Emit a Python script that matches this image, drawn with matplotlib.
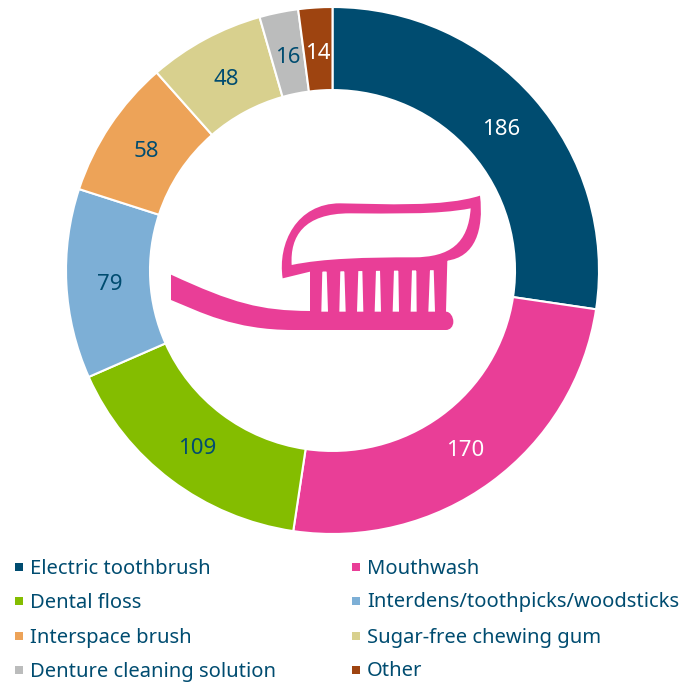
import numpy as np
import matplotlib
matplotlib.use('Agg')
import matplotlib.pyplot as plt
from matplotlib.patches import PathPatch, Rectangle
from matplotlib.path import Path
from matplotlib.transforms import Affine2D

categories = ['Electric toothbrush', 'Mouthwash', 'Dental floss',
	'Interdens/toothpicks/woodsticks', 'Interspace brush',
	'Sugar-free chewing gum', 'Denture cleaning solution', 'Other']
values = [186, 170, 109, 79, 58, 48, 16, 14]
colors = ['#004c70', '#e93e97', '#84bd00', '#7dafd6', '#eda358', '#d8d08e', '#bbbcbc', '#9e4410']
label_colors = ['white', 'white', '#004c70', '#004c70', '#004c70', '#004c70', '#004c70', 'white']

TEXT_COLOR = '#004c70'
FONT = 'Noto Sans'
WIDTH, HEIGHT = 693, 684

# the ring is very slightly flattened
Y_SCALE = 0.9887


def curve(verts, codes, *pts):
	# appends cubic segments
	for p in pts:
		verts.append(p)
		codes.append(Path.CURVE4)


def line(verts, codes, *pts):
	for p in pts:
		verts.append(p)
		codes.append(Path.LINETO)


def start(verts, codes, p):
	verts.append(p)
	codes.append(Path.MOVETO)


def close(verts, codes):
	verts.append(verts[-1])
	codes.append(Path.CLOSEPOLY)


def toothbrush_path():
	v, c = [], []

	# paste, outer edge
	start(v, c, (398, 295))
	curve(v, c, (382, 190), (440, 70), (570, 70))
	curve(v, c, (700, 72), (880, 82), (990, 47))
	curve(v, c, (1002, 150), (975, 232), (890, 242))
	line(v, c, (890, 270), (480, 275))
	close(v, c)

	# paste hole, wound the other way
	start(v, c, (425, 255))
	curve(v, c, (520, 235), (650, 232), (790, 232))
	curve(v, c, (900, 232), (955, 190), (962, 85))
	curve(v, c, (860, 105), (720, 100), (600, 100))
	curve(v, c, (460, 100), (420, 170), (425, 255))
	close(v, c)

	# handle and bristle block
	start(v, c, (63, 284))
	curve(v, c, (250, 370), (330, 392), (480, 393))
	line(v, c, (480, 265), (892, 240), (888, 395))
	curve(v, c, (900, 395), (910, 410), (910, 425))
	curve(v, c, (910, 440), (900, 450), (888, 450))
	line(v, c, (430, 450))
	curve(v, c, (250, 450), (150, 395), (63, 360))
	close(v, c)

	# slits between the bristles
	slits = [(517, 530, 514, 534), (571, 583, 568, 587), (625, 637, 621, 640),
		(678, 690, 674, 693), (732, 745, 728, 747), (786, 799, 782, 800), (840, 851, 835, 855)]
	for top_l, top_r, bot_l, bot_r in slits:
		top_y = 270 - (top_l - 517) * 0.012
		start(v, c, (top_l, top_y))
		line(v, c, (bot_l, 395), (bot_r, 395), (top_r, top_y))
		close(v, c)

	return Path(v, c)


def main():

	fig = plt.figure(figsize=(WIDTH / 100, HEIGHT / 100), dpi=100)
	ax = fig.add_axes([0, 0, 1, 1])

	center = (332.5, (HEIGHT - 270.5) / Y_SCALE)

	wedges, _ = ax.pie(values, colors=colors, startangle=90, counterclock=False,
		center=center, radius=266.5, frame=True,
		wedgeprops={'width': 84, 'edgecolor': 'white', 'linewidth': 1.5})

	ax.set_xlim(0, WIDTH)
	ax.set_ylim(0, HEIGHT / Y_SCALE)
	ax.set_aspect('auto')
	ax.axis('off')

	# value labels sit mid-ring, nudged down to centre the digits
	for wedge, value, color in zip(wedges, values, label_colors):
		angle = np.deg2rad((wedge.theta1 + wedge.theta2) / 2)
		x = center[0] + 223 * np.cos(angle)
		y = center[1] + 223 * np.sin(angle) - 2.7
		ax.text(x, y, str(value), color=color, fontsize=16, family=FONT, ha='center', va='center')

	# icon and legend are placed in pixels, y down
	overlay = fig.add_axes([0, 0, 1, 1], facecolor='none')
	overlay.set_xlim(0, WIDTH)
	overlay.set_ylim(HEIGHT, 0)
	overlay.axis('off')

	to_axes = Affine2D().scale(1 / 3).translate(150, 180) + overlay.transData
	overlay.add_patch(PathPatch(toothbrush_path(), facecolor='#e93e97', edgecolor='none', transform=to_axes))

	# two column legend, filled row by row
	col_x = [15, 352]
	row_y = [567, 601, 636, 670]
	for i, (name, color) in enumerate(zip(categories, colors)):
		x = col_x[i % 2]
		y = row_y[i // 2]
		overlay.add_patch(Rectangle((x, y - 4), 8, 8, facecolor=color, edgecolor='none'))
		overlay.text(x + 15, y + 1.5, name, color=TEXT_COLOR, fontsize=14.5, family=FONT, ha='left', va='center')

	fig.savefig('out.png', dpi=100, facecolor='white')


main()
